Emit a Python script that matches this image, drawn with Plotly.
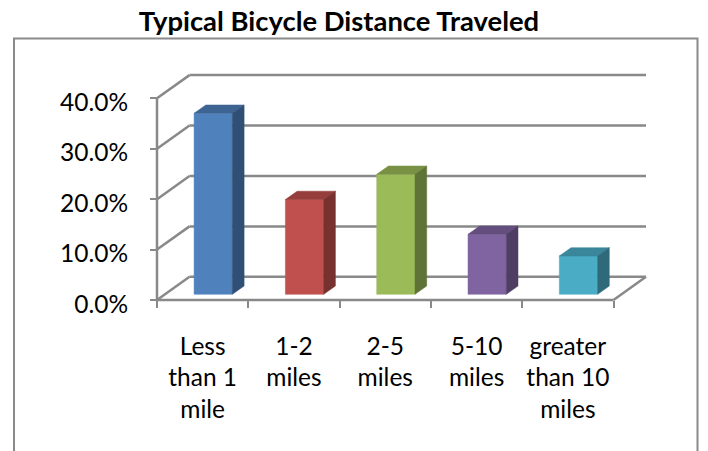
import plotly.graph_objects as go

# ---------------- data ----------------
categories = ["Less<br>than 1<br>mile", "1-2<br>miles", "2-5<br>miles",
              "5-10<br>miles", "greater<br>than 10<br>miles"]
values = [35.9, 18.8, 23.8, 11.9, 7.6]          # percent
colors = ["#4F81BD", "#C0504D", "#9BBB59", "#8064A2", "#4BACC6"]
y_ticks = [0, 10, 20, 30, 40]
y_tick_text = ["%.1f%%" % v for v in y_ticks]
title_text = "Typical Bicycle Distance Traveled"

# ---------------- geometry / style ----------------
W, H = 708, 451
UX = 91.3      # px per category
UY = 5.042     # px per percent
X0PX, Y0PX = 157, 300   # pixel of data origin (front-left corner of floor)
L, R, T, B = 148, 50, 66, 144
plot_w = W - L - R
plot_h = H - T - B
x_min = -(X0PX - L) / UX
x_max = x_min + plot_w / UX
y_min = -((H - B) - Y0PX) / UY
y_max = y_min + plot_h / UY

DX, DY = 32.5 / UX, 23.2 / UY        # wall depth (oblique projection)
OX, OY = 10.6 / UX, 5.7 / UY         # bar front face offset
HW = 19.15 / UX                      # half bar width
BX, BY = 11.7 / UX, 8.3 / UY         # bar depth

GRID = "#898989"
GW = 2.5
FONT = "Lato"
FS = 24.5


def shade(hexc, f):
    h = hexc.lstrip("#")
    r, g, b = (int(h[i:i + 2], 16) for i in (0, 2, 4))
    return "rgb(%d,%d,%d)" % (r * f, g * f, b * f)


fig = go.Figure()

# bars (pseudo-3D)
n = len(categories)
for i, (v, c) in enumerate(zip(values, colors)):
    cx = i + 0.5 + OX
    x0, x1 = cx - HW, cx + HW
    yb, yt = OY, OY + v
    faces = [
        ([x0, x1, x1, x0, x0], [yb, yb, yt, yt, yb], c),
        ([x0, x1, x1 + BX, x0 + BX, x0], [yt, yt, yt + BY, yt + BY, yt], shade(c, 0.78)),
        ([x1, x1 + BX, x1 + BX, x1, x1], [yb, yb + BY, yt + BY, yt, yb], shade(c, 0.62)),
    ]
    for xs, ys, col in faces:
        fig.add_trace(go.Scatter(x=xs, y=ys, mode="lines", fill="toself",
                                 fillcolor=col, line=dict(color=col, width=0.5),
                                 hoverinfo="skip", showlegend=False))

shapes = []


def seg(xa, ya, xb, yb):
    shapes.append(dict(type="line", xref="x", yref="y", x0=xa, y0=ya, x1=xb, y1=yb,
                       line=dict(color=GRID, width=GW), layer="below"))


for v in y_ticks:
    seg(DX, v + DY, n + DX, v + DY)     # back wall gridline
    seg(0, v, DX, v + DY)               # side wall diagonal
seg(n, 0, n + DX, DY)                   # floor right edge
seg(0, 0, n, 0)                         # floor front edge
seg(0, 0, 0, y_ticks[-1])               # front value axis


def px_to_paper_x(px):
    return (px - L) / plot_w


def px_to_paper_y(py):
    return (H - B - py) / plot_h


shapes.append(dict(type="rect", xref="paper", yref="paper",
                   x0=px_to_paper_x(14), x1=px_to_paper_x(697.5),
                   y0=px_to_paper_y(480), y1=px_to_paper_y(38.5),
                   line=dict(color="#8a8a8a", width=2), fillcolor="rgba(0,0,0,0)",
                   layer="below"))

fig.update_layout(
    width=W, height=H, autosize=False,
    margin=dict(l=L, r=R, t=T, b=B, pad=0),
    paper_bgcolor="white", plot_bgcolor="white",
    font=dict(family=FONT, size=FS, color="black"),
    title=dict(text=title_text, x=339 / W, xanchor="center", xref="container",
               y=1 - 21 / H, yanchor="middle", yref="container",
               font=dict(family=FONT, size=27.4, color="black", weight="bold")),
    shapes=shapes,
    showlegend=False,
    xaxis=dict(range=[x_min, x_max], showgrid=False, zeroline=False, showline=False,
               tickmode="array", tickvals=[i + 0.5 for i in range(n)], ticktext=categories,
               ticks="", ticklabelstandoff=29,
               minor=dict(tickmode="array", tickvals=list(range(n + 1)), ticks="outside",
                          ticklen=7, tickwidth=2, tickcolor=GRID, showgrid=False),
               anchor="free", position=(0 - y_min) / (y_max - y_min),
               fixedrange=True),
    yaxis=dict(range=[y_min, y_max], showgrid=False, zeroline=False, showline=False,
               tickmode="array", tickvals=y_ticks, ticktext=y_tick_text,
               ticks="outside", ticklen=7, tickwidth=2, tickcolor=GRID,
               ticklabelstandoff=17, ticklabelshift=4,
               anchor="free", position=(0 - x_min) / (x_max - x_min),
               fixedrange=True),
)

fig.write_html("out.html")
